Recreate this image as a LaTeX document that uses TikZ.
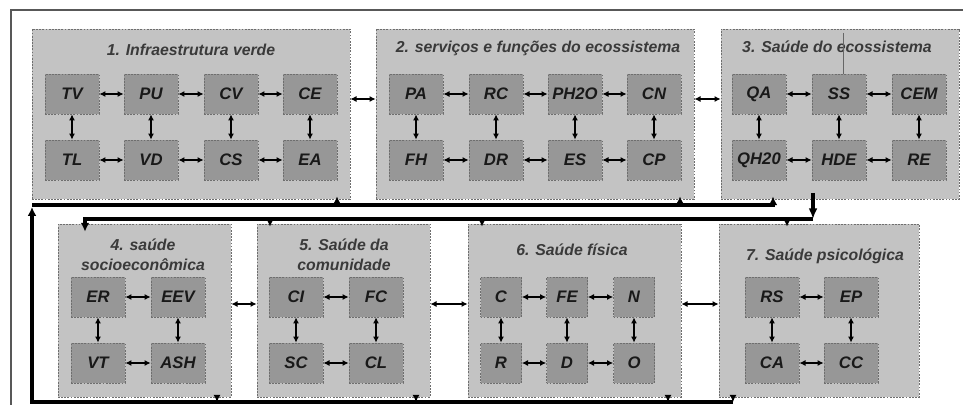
\documentclass[tikz,border=0pt]{standalone}
\usepackage{fontspec}
\setmainfont{Liberation Sans}
\usetikzlibrary{arrows.meta,fit}

\definecolor{GroupGrey}{HTML}{C3C3C3}
\definecolor{CellGrey}{HTML}{979797}
\definecolor{EdgeGrey}{HTML}{6E6E6E}
\definecolor{TitleInk}{HTML}{3A3A3A}

\tikzset{
    grp/.style={draw=EdgeGrey, fill=GroupGrey, line width=0.4pt, dash pattern=on 1pt off 0.8pt, inner sep=0pt},
    cell/.style={draw=EdgeGrey, fill=CellGrey, line width=0.4pt, dash pattern=on 1pt off 0.8pt, inner sep=0pt,
        minimum width=1.08cm, minimum height=0.8cm, font=\fontsize{9.5}{11}\selectfont\bfseries\itshape, text=black!90},
    narrow/.style={cell, minimum width=0.82cm},
    title/.style={font=\fontsize{9}{11.5}\selectfont\bfseries\itshape, text=TitleInk, align=center, inner sep=0pt},
    link/.style={{Latex[length=3.5pt,width=3.5pt]}-{Latex[length=3.5pt,width=3.5pt]}, line width=0.8pt},
    bus/.style={line width=2.1pt},
    tap/.style={-{Latex[length=4pt,width=4pt]}, line width=0.9pt}
}

\begin{document}
\begin{tikzpicture}[x=0.02cm, y=-0.02cm]
        \useasboundingbox (0,0) rectangle (963,405);

        % frame
        \draw[EdgeGrey!80!black, line width=0.8pt] (11,405) -- (11,10) -- (963,10);

        % group boxes
        \node[grp, fit={(32,29) (350,199)}] (g1) {};
        \node[grp, fit={(376,29) (694,199)}] (g2) {};
        \node[grp, fit={(721,29) (959,199)}] (g3) {};
        \node[grp, fit={(58,224) (231,397)}] (g4) {};
        \node[grp, fit={(257,224) (430,397)}] (g5) {};
        \node[grp, fit={(468,224) (681,397)}] (g6) {};
        \node[grp, fit={(719,224) (919,397)}] (g7) {};

        \node[title] (t1) at (191,50) {1. Infraestrutura verde};
        \node[title] (t2) at (538,48) {2. serviços e funções do ecossistema};
        \node[title] (t3) at (837,47) {3. Saúde do ecossistema};
        \node[title] (t4) at (143,255) {4. saúde\\socioeconômica};
        \node[title] (t5) at (344,255) {5. Saúde da\\comunidade};
        \node[title] (t6) at (572,250) {6. Saúde física};
        \node[title] (t7) at (825,256) {7. Saúde psicológica};

        % 1
        \node[cell] (TV) at (72,94) {TV};
        \node[cell] (PU) at (151,94) {PU};
        \node[cell] (CV) at (231,94) {CV};
        \node[cell] (CE) at (310,94) {CE};
        \node[cell] (TL) at (72,160) {TL};
        \node[cell] (VD) at (151,160) {VD};
        \node[cell] (CS) at (231,160) {CS};
        \node[cell] (EA) at (310,160) {EA};
        % 2
        \node[cell] (PA) at (416,94) {PA};
        \node[cell] (RC) at (496,94) {RC};
        \node[cell] (PH) at (575,94) {PH2O};
        \node[cell] (CN) at (654,94) {CN};
        \node[cell] (FH) at (416,160) {FH};
        \node[cell] (DR) at (496,160) {DR};
        \node[cell] (ES) at (575,160) {ES};
        \node[cell] (CP) at (654,160) {CP};
        % 3
        \node[cell] (QA) at (759,94) {QA};
        \node[cell] (SS) at (839,94) {SS};
        \node[cell] (CEM) at (919,94) {CEM};
        \node[cell] (QH) at (759,160) {QH20};
        \node[cell] (HDE) at (839,160) {HDE};
        \node[cell] (RE) at (919,160) {RE};
        % 4
        \node[cell] (ER) at (98,297) {ER};
        \node[cell] (EEV) at (178,297) {EEV};
        \node[cell] (VT) at (98,363) {VT};
        \node[cell] (ASH) at (178,363) {ASH};
        % 5
        \node[cell] (CI) at (296,297) {CI};
        \node[cell] (FC) at (376,297) {FC};
        \node[cell] (SC) at (296,363) {SC};
        \node[cell] (CL) at (376,363) {CL};
        % 6
        \node[narrow] (C) at (501,297) {C};
        \node[narrow] (FE) at (567,297) {FE};
        \node[narrow] (N) at (634,297) {N};
        \node[narrow] (R) at (501,363) {R};
        \node[narrow] (D) at (567,363) {D};
        \node[narrow] (O) at (634,363) {O};
        % 7
        \node[cell] (RS) at (772,297) {RS};
        \node[cell] (EP) at (851,297) {EP};
        \node[cell] (CA) at (772,363) {CA};
        \node[cell] (CC) at (851,363) {CC};

        % links inside the groups
        \foreach \a/\b in {TV/PU, PU/CV, CV/CE, TL/VD, VD/CS, CS/EA, TV/TL, PU/VD, CV/CS, CE/EA,
                PA/RC, RC/PH, PH/CN, FH/DR, DR/ES, ES/CP, PA/FH, RC/DR, PH/ES, CN/CP,
                QA/SS, SS/CEM, QH/HDE, HDE/RE, QA/QH, SS/HDE, CEM/RE,
                ER/EEV, VT/ASH, ER/VT, EEV/ASH,
                CI/FC, SC/CL, CI/SC, FC/CL,
                C/FE, FE/N, R/D, D/O, C/R, FE/D, N/O,
                RS/EP, CA/CC, RS/CA, EP/CC}
            \draw[link] (\a) -- (\b);

        % links between the groups
        \draw[link] ([yshift=0.3cm]g1.east) -- ([yshift=0.3cm]g2.west);
        \draw[link] ([yshift=0.3cm]g2.east) -- ([yshift=0.3cm]g3.west);
        \draw[link] ([yshift=0.13cm]g4.east) -- ([yshift=0.13cm]g5.west);
        \draw[link] ([yshift=0.13cm]g5.east) -- ([yshift=0.13cm]g6.west);
        \draw[link] ([yshift=0.13cm]g6.east) -- ([yshift=0.13cm]g7.west);

        \draw[black!60, line width=0.3pt] (843,33) -- (SS.north -| 843,0);

        % feedback: top row to bottom row
        \coordinate (outA) at (813,193);
        \coordinate (busA) at (813,219);
        \draw[bus, -{Latex[length=6pt,width=5pt]}] (outA) -- (busA);
        \draw[bus, -{Latex[length=5pt,width=5pt]}] (busA) -| ([yshift=-0.16cm]g4.north -| 85,0);
        \foreach \x/\g in {270/g5, 482/g6, 787/g7}
            \draw[tap] (\x,219) -- ([yshift=-0.06cm]\g.north -| \x,0);

        % feedback: bottom row to top row
        \coordinate (busB) at (733,402);
        \draw[bus, -{Latex[length=5pt,width=5pt]}] (busB) -| (32,207);
        \draw[bus] (32,205) -- (680,205);
        \draw[bus, -{Latex[length=5pt,width=5pt]}] (680,205) -| ([yshift=0.06cm]g3.south -| 773,0);
        \foreach \x/\g in {337/g1, 680/g2}
            \draw[tap] (\x,205) -- ([yshift=0.06cm]\g.south -| \x,0);
        \foreach \x/\g in {217/g4, 416/g5, 668/g6, 733/g7}
            \draw[tap] (\g.south -| \x,0) -- (\x,402);
\end{tikzpicture}
\end{document}
